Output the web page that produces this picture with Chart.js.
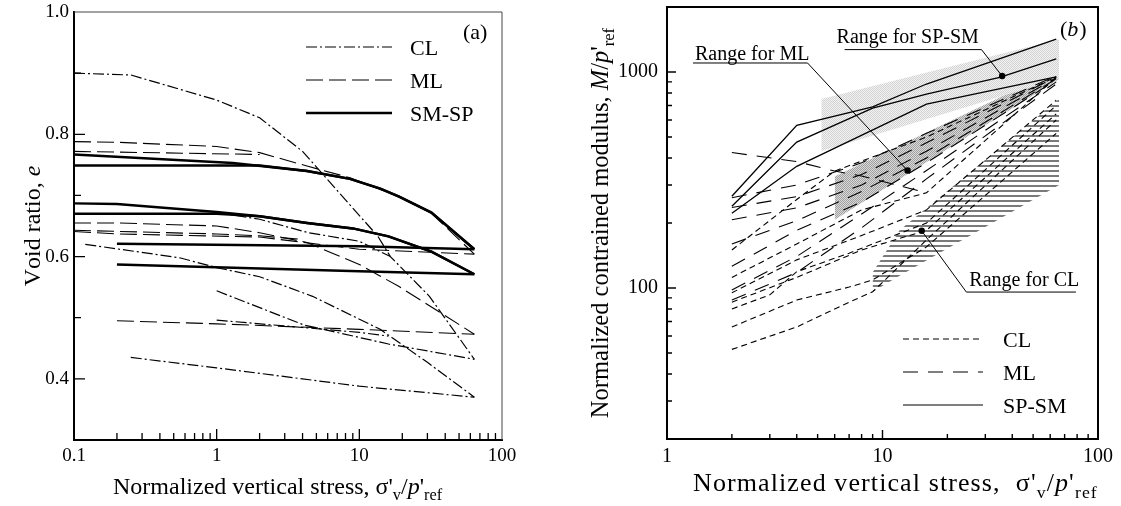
<!DOCTYPE html>
<html><head><meta charset="utf-8"><title>Void ratio and constrained modulus</title>
<script src="https://cdn.jsdelivr.net/npm/chart.js@4/dist/chart.umd.min.js"></script>
<style>
html,body{margin:0;padding:0;background:#fff;}
#wrap{position:relative;width:1121px;height:506px;overflow:hidden;background:#fff;}
#cA,#cB{position:absolute;top:0;}
#cA{left:0;} #cB{left:560px;}
</style></head>
<body><div id="wrap"><canvas id="cA" width="560" height="506"></canvas><canvas id="cB" width="561" height="506"></canvas></div>
<script>
const FONT = "'Liberation Serif','Times New Roman',serif";

// ---------------- Panel (a): void ratio e vs normalized vertical stress
const aXTicks = [0.1, 1, 10, 100];
const aYTicks = [0.4, 0.6, 0.8, 1.0];
const aLegend = ['CL', 'ML', 'SM-SP'];
// CL (dash-dot)
const aCL1 = [[0.1,0.900],[0.25,0.897],[1,0.856],[2,0.827],[4,0.772],[13.5,0.633],[16.5,0.600],[31,0.535],[64,0.432]];
const aCL2 = [[0.12,0.620],[0.55,0.598],[1,0.582],[2,0.567],[4.7,0.535],[14,0.481],[30,0.427],[64,0.370]];
const aCL3 = [[1,0.544],[4.1,0.488],[16,0.457],[64,0.432]];
const aCL4 = [[1,0.496],[4,0.484],[10,0.476],[16,0.470]];
const aCL5 = [[0.25,0.435],[1,0.418],[10,0.388],[64,0.370]];
const aCL6 = [[1,0.672],[2,0.661],[4.4,0.639],[10,0.625],[16.5,0.600]];
// ML (long dash)
const aML1 = [[0.1,0.788],[0.2,0.787],[1,0.780],[2,0.770],[4.3,0.748],[8.6,0.729],[19,0.698],[31,0.674],[64,0.604]];
const aML2 = [[0.1,0.772],[2,0.767]];
const aML3 = [[0.1,0.655],[0.2,0.655],[1,0.650],[2,0.639],[4.3,0.623],[10,0.587],[19,0.551],[64,0.473]];
const aML4 = [[0.1,0.641],[0.2,0.637],[2,0.632],[10,0.612],[64,0.604]];
const aML5 = [[0.1,0.643],[1,0.637],[2,0.634],[4,0.628]];
const aML6 = [[0.2,0.495],[1,0.490],[10,0.481],[64,0.473]];
// SM-SP (thick solid)
const aSM1 = [[0.1,0.767],[1.3,0.753],[4.3,0.740],[8.6,0.727],[14,0.711],[19,0.698],[32,0.672],[64,0.612]];
const aSM2 = [[0.1,0.749],[2,0.749],[4.3,0.740],[8.6,0.727],[14,0.711],[19,0.698],[32,0.672],[64,0.612]];
const aSM3 = [[0.1,0.687],[0.2,0.686],[1,0.673],[2,0.666],[4.3,0.655],[9,0.646],[16,0.633],[32,0.608],[64,0.571]];
const aSM4 = [[0.1,0.670],[1,0.670],[2,0.666],[4.3,0.655],[9,0.646],[16,0.633],[32,0.608],[64,0.571]];
const aSM5 = [[0.2,0.621],[10,0.617],[64,0.612]];
const aSM6 = [[0.2,0.587],[10,0.576],[64,0.571]];

// ---------------- Panel (b): normalized constrained modulus vs normalized vertical stress
const bXTicks = [1, 10, 100];
const bYTicks = [100, 1000];
const bLegend = ['CL', 'ML', 'SP-SM'];
// CL (short dash)
const bCL1 = [[2,52],[4,66],[7,86],[9,96],[16,167],[64,600]];
const bCL2 = [[2,66],[4,88],[7,101],[9,109],[16,155],[64,520]];
const bCL3 = [[2,80],[3,93],[4,119],[7,145],[16,200],[64,700]];
const bCL4 = [[2,86],[4,112],[8,150],[16,185],[64,640]];
const bCL5 = [[2,95],[4,135],[8,175],[16,230],[64,740]];
const bCL6 = [[2,150],[4,257],[6,348],[16,500],[64,950]];
const bCL7 = [[2,112],[4,160],[8,230],[16,276],[64,945]];
// ML (long dash)
const bML1 = [[2,424],[4,385],[6,348],[8,330],[16,276]];
const bML2 = [[2,262],[4,300],[8,380],[16,520],[64,960]];
const bML3 = [[2,236],[4,265],[8,335],[16,470],[64,950]];
const bML4 = [[2,207],[4,235],[8,300],[16,430],[64,940]];
const bML5 = [[2,160],[4,205],[8,280],[16,400],[64,930]];
const bML6 = [[2,126],[4,185],[8,250],[16,380],[64,920]];
const bML7 = [[2,98],[4,140],[8,220],[16,350],[64,900]];
const bML8 = [[2,88],[4,118],[8,190],[16,320],[64,880]];
// SP-SM (solid)
const bSM1 = [[2,266],[4,566],[9,690],[16,880],[64,1420]];
const bSM2 = [[2,239],[4,474],[9,680],[16,790],[35,945],[64,1150]];
const bSM3 = [[2,222],[4,366],[16,710],[64,950]];
// shaded ranges: stress, upper bound, lower bound
const rangeSPSM_x = [5.2, 66], rangeSPSM_hi = [750, 1420], rangeSPSM_lo = [430, 930];
const rangeML_x = [6, 66],   rangeML_hi = [328, 1033],  rangeML_lo = [207, 928];
const rangeCL_x = [9, 12, 66], rangeCL_hi = [118, 185, 750], rangeCL_lo = [96, 114, 300];
// annotation anchors (stress, modulus)
const annML = {text:'Range for ML', line:[[1.32,1101],[4.49,1101]], dot:[13.07,350]};
const annSP = {text:'Range for SP-SM', line:[[6.67,1270],[28.8,1270]], dot:[35.9,958]};
const annCL = {text:'Range for CL', line:[[79,95.8],[24.5,95.8]], dot:[15.2,184]};

// ---------------- helpers
const toXY = a => a.map(p => ({x:p[0], y:p[1]}));
function line(arr, st){ return Object.assign({data:toXY(arr), borderColor:'#000', pointRadius:0, fill:false, tension:0, order:0, borderCapStyle:'butt'}, st); }
const pc = document.createElement('canvas').getContext('2d');
function pattern(w,h,fn){ const c=document.createElement('canvas'); c.width=w; c.height=h; const g=c.getContext('2d'); fn(g); return pc.createPattern(c,'repeat'); }
const patSP = pattern(2,2,g=>{g.fillStyle='#f3f3f3';g.fillRect(0,0,2,2);g.fillStyle='#d2d2d2';g.fillRect(0,0,1,1);g.fillRect(1,1,1,1);});
const patML = pattern(2,2,g=>{g.fillStyle='#dadada';g.fillRect(0,0,2,2);g.fillStyle='#a0a0a0';g.fillRect(0,0,1,1);g.fillRect(1,1,1,1);});
const patCL = pattern(4,5,g=>{g.fillStyle='#7a7a7a';g.fillRect(0,0,4,2);});
function band(xs, hi, lo, fillStyle){
  return [
    {data:xs.map((x,i)=>({x, y:hi[i]})), borderWidth:0, borderColor:'rgba(0,0,0,0)', pointRadius:0, fill:'+1', backgroundColor:fillStyle, order:10, tension:0},
    {data:xs.map((x,i)=>({x, y:lo[i]})), borderWidth:0, borderColor:'rgba(0,0,0,0)', pointRadius:0, fill:false, order:10, tension:0}
  ];
}
// rich text: parts [text, kind], kind: 'n' normal, 'i' italic, 'sub' subscript; sp = extra spacing per character
function rich(ctx, x, y, parts, size, align, sp){
  sp = sp || 0;
  const f = (k,s) => ((k==='i')?'italic ':'') + s + 'px ' + FONT;
  const glyphs = [];
  let w = 0;
  parts.forEach(([t,k]) => {
    const s = (k==='sub') ? size*0.68 : size;
    ctx.font = f(k,s);
    for (const ch of t){ const m = ctx.measureText(ch).width + sp; glyphs.push({ch,k,s,m}); w += m; }
  });
  let cx = align==='center' ? x - w/2 : x;
  ctx.textBaseline = 'alphabetic'; ctx.textAlign = 'left';
  for (const g of glyphs){ ctx.font = f(g.k,g.s); ctx.fillText(g.ch, cx, y + (g.k==='sub' ? size*0.25 : 0)); cx += g.m; }
}
const inTicks = {
  id:'inTicks',
  afterDatasetsDraw(chart, args, o){
    const ctx = chart.ctx, a = chart.chartArea, xs = chart.scales.x, ys = chart.scales.y;
    ctx.save(); ctx.strokeStyle = '#000'; ctx.lineWidth = o.lw; ctx.setLineDash([]);
    ctx.beginPath();
    o.xMajor.forEach(v => { const p = xs.getPixelForValue(v); ctx.moveTo(p, a.bottom); ctx.lineTo(p, a.bottom - o.maj); });
    o.xMinor.forEach(v => { const p = xs.getPixelForValue(v); ctx.moveTo(p, a.bottom); ctx.lineTo(p, a.bottom - o.min); });
    o.yMajor.forEach(v => { const p = ys.getPixelForValue(v); ctx.moveTo(a.left, p); ctx.lineTo(a.left + o.maj, p); });
    o.yMinor.forEach(v => { const p = ys.getPixelForValue(v); ctx.moveTo(a.left, p); ctx.lineTo(a.left + o.min, p); });
    ctx.stroke();
    // top and right frame
    ctx.strokeStyle = o.frameColor; ctx.lineWidth = o.frameW;
    ctx.beginPath(); ctx.moveTo(a.left, a.top); ctx.lineTo(a.right, a.top); ctx.lineTo(a.right, a.bottom); ctx.stroke();
    ctx.restore();
  }
};
function axisOpts(type, min, max, tickVals, fmt, size, pad, fit){
  return {type, min, max,
    grid:{display:false, drawTicks:false, tickLength:0}, border:{display:true, color:'#000', width:2},
    afterBuildTicks: s => { s.ticks = tickVals.map(v => ({value:v})); },
    afterFit: fit,
    ticks:{autoSkip:false, maxRotation:0, minRotation:0, padding:pad, color:'#000', font:{family:FONT, size}, callback:fmt}};
}
const range = (a,b,s) => { const r=[]; for(let v=a; v<=b+1e-9; v+=s) r.push(+v.toFixed(6)); return r; };

// ---------------- Chart (a)
const aCLst = {borderWidth:1.2, borderDash:[11,3,2,3]};
const aMLst = {borderWidth:1.1, borderDash:[17,6]};
const aSMst = {borderWidth:2.4};
const decoA = {
  id:'decoA',
  afterDraw(chart){
    const ctx = chart.ctx, a = chart.chartArea;
    ctx.save(); ctx.fillStyle = '#000'; ctx.strokeStyle = '#000';
    // legend
    const lx0 = a.left + 232, lx1 = a.left + 318, ly = [a.top + 35, a.top + 68, a.top + 101];
    const st = [aCLst, aMLst, aSMst];
    st.forEach((s,i) => { ctx.lineWidth = s.borderWidth; ctx.setLineDash(s.borderDash || []); ctx.beginPath(); ctx.moveTo(lx0, ly[i]); ctx.lineTo(lx1, ly[i]); ctx.stroke(); });
    ctx.setLineDash([]);
    ctx.font = '22px ' + FONT; ctx.textBaseline = 'alphabetic'; ctx.textAlign = 'left';
    aLegend.forEach((t,i) => ctx.fillText(t, a.left + 336, ly[i] + 8));
    ctx.fillText('(a)', a.left + 389, a.top + 27);
    // axis titles
    rich(ctx, 113, 494, [["Normalized vertical stress, \u03c3'",'n'],['v','sub'],['/','n'],['p','i'],["'",'n'],['ref','sub']], 24, 'left');
    ctx.save(); ctx.translate(40, 226); ctx.rotate(-Math.PI/2);
    rich(ctx, 0, 0, [['Void ratio, ','n'],['e','i']], 24, 'center');
    ctx.restore();
    ctx.restore();
  }
};
new Chart(document.getElementById('cA'), {
  type:'line',
  data:{datasets:[
    line(aSM1,aSMst), line(aSM2,aSMst), line(aSM3,aSMst), line(aSM4,aSMst), line(aSM5,aSMst), line(aSM6,aSMst),
    line(aML1,aMLst), line(aML2,aMLst), line(aML3,aMLst), line(aML4,aMLst), line(aML5,aMLst), line(aML6,aMLst),
    line(aCL1,aCLst), line(aCL2,aCLst), line(aCL3,aCLst), line(aCL4,aCLst), line(aCL5,aCLst), line(aCL6,aCLst)
  ]},
  options:{
    responsive:false, animation:false, events:[],
    layout:{padding:{left:0, right:58, top:12, bottom:0}},
    plugins:{legend:{display:false}, tooltip:{enabled:false},
      inTicks:{lw:1.3, maj:11, min:7, frameColor:'#444', frameW:1,
        xMajor:[1,10], xMinor:[...range(0.2,0.9,0.1), ...range(2,9,1), ...range(20,90,10)],
        yMajor:[0.4,0.6,0.8], yMinor:[0.3,0.5,0.7,0.9]}},
    scales:{
      x: axisOpts('logarithmic', 0.1, 100, aXTicks, v => String(v), 19, 5, s => { s.height = 66; s.paddingLeft = 0; s.paddingRight = 0; }),
      y: axisOpts('linear', 0.3, 1.0, aYTicks, v => Number(v).toFixed(1), 19, 5, s => { s.width = 74; s.paddingTop = 0; s.paddingBottom = 0; })
    }
  },
  plugins:[inTicks, decoA]
});

// ---------------- Chart (b)
const bCLst = {borderWidth:1.1, borderDash:[6,4]};
const bMLst = {borderWidth:1.1, borderDash:[15,10]};
const bSMst = {borderWidth:1.3};
const decoB = {
  id:'decoB',
  afterDraw(chart){
    const ctx = chart.ctx, a = chart.chartArea, xs = chart.scales.x, ys = chart.scales.y;
    const P = p => [xs.getPixelForValue(p[0]), ys.getPixelForValue(p[1])];
    ctx.save(); ctx.fillStyle = '#000'; ctx.strokeStyle = '#000';
    // annotations
    ctx.font = '20px ' + FONT; ctx.textBaseline = 'alphabetic'; ctx.textAlign = 'left';
    const anns = [[annML, 2, -3], [annSP, -8, -7], [annCL, 3, -6]];
    anns.forEach(([an, dx, dy]) => {
      const p0 = P(an.line[0]), p1 = P(an.line[1]), d = P(an.dot);
      ctx.lineWidth = 1; ctx.setLineDash([]);
      ctx.beginPath(); ctx.moveTo(p0[0], p0[1]); ctx.lineTo(p1[0], p1[1]); ctx.lineTo(d[0], d[1]); ctx.stroke();
      ctx.beginPath(); ctx.arc(d[0], d[1], 3.2, 0, Math.PI*2); ctx.fill();
      const tx = Math.min(p0[0], p1[0]) + dx;
      ctx.fillText(an.text, tx, p0[1] + dy);
    });
    // legend
    const lx0 = 903 - 560, lx1 = 983 - 560, ly = [339, 372, 405];
    [bCLst, bMLst, bSMst].forEach((s,i) => { ctx.lineWidth = 1.1; ctx.setLineDash(s.borderDash || []); ctx.beginPath(); ctx.moveTo(lx0, ly[i]); ctx.lineTo(lx1, ly[i]); ctx.stroke(); });
    ctx.setLineDash([]);
    ctx.font = '22px ' + FONT;
    bLegend.forEach((t,i) => ctx.fillText(t, 1003 - 560, ly[i] + 8));
    ctx.fillText('(', 1060 - 560, 36);
    const wp = ctx.measureText('(').width;
    ctx.font = 'italic 22px ' + FONT; ctx.fillText('b', 1060 - 560 + wp, 36);
    const wb = ctx.measureText('b').width;
    ctx.font = '22px ' + FONT; ctx.fillText(')', 1060 - 560 + wp + wb + 1, 36);
    // axis titles
    rich(ctx, 693 - 560, 491, [["Normalized vertical stress,  \u03c3'",'n'],['v','sub'],['/','n'],['p','i'],["'",'n'],['ref','sub']], 26, 'left', 1.1);
    ctx.save(); ctx.translate(608 - 560, 223); ctx.rotate(-Math.PI/2);
    rich(ctx, 0, 0, [['Normalized contrained modulus, ','n'],['M','i'],['/','n'],['p','i'],["'",'n'],['ref','sub']], 24.5, 'center');
    ctx.restore();
    ctx.restore();
  }
};
new Chart(document.getElementById('cB'), {
  type:'line',
  data:{datasets:[
    line(bSM1,bSMst), line(bSM2,bSMst), line(bSM3,bSMst),
    line(bML1,bMLst), line(bML2,bMLst), line(bML3,bMLst), line(bML4,bMLst), line(bML5,bMLst), line(bML6,bMLst), line(bML7,bMLst), line(bML8,bMLst),
    line(bCL1,bCLst), line(bCL2,bCLst), line(bCL3,bCLst), line(bCL4,bCLst), line(bCL5,bCLst), line(bCL6,bCLst), line(bCL7,bCLst),
    ...band(rangeSPSM_x, rangeSPSM_hi, rangeSPSM_lo, patSP),
    ...band(rangeML_x, rangeML_hi, rangeML_lo, patML),
    ...band(rangeCL_x, rangeCL_hi, rangeCL_lo, patCL)
  ]},
  options:{
    responsive:false, animation:false, events:[],
    layout:{padding:{left:0, right:23, top:7, bottom:0}},
    plugins:{legend:{display:false}, tooltip:{enabled:false}, filler:{propagate:false},
      inTicks:{lw:1.4, maj:9, min:5, frameColor:'#000', frameW:2,
        xMajor:[10], xMinor:[...range(2,9,1), ...range(20,90,10)],
        yMajor:[100,1000], yMinor:[...range(30,90,10), ...range(200,900,100)]}},
    scales:{
      x: axisOpts('logarithmic', 1, 100, bXTicks, v => String(v), 20, 6, s => { s.height = 67; s.paddingLeft = 0; s.paddingRight = 0; }),
      y: axisOpts('logarithmic', 20, 2000, bYTicks, v => String(v), 20, 9, s => { s.width = 107; s.paddingTop = 0; s.paddingBottom = 0; })
    }
  },
  plugins:[inTicks, decoB]
});
</script>
</body></html>
